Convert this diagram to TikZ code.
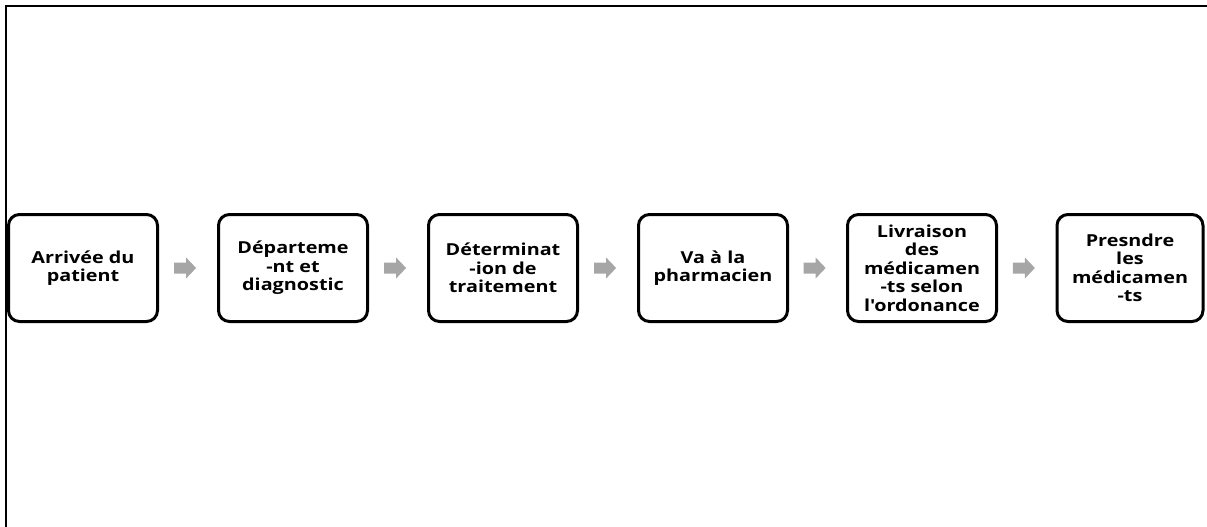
\documentclass[tikz,border=0pt]{standalone}
\usepackage{fontspec}
\newfontfamily\boxfont{Open Sans}[FakeStretch=1.2]
\usetikzlibrary{calc}
\tikzset{
  stepbox/.style={draw=black, line width=3pt, rounded corners=11pt, fill=white,
    minimum width=149pt, minimum height=107pt, inner sep=0pt, align=center,
    font=\boxfont\bfseries\fontsize{16.5}{18.5}\selectfont},
  flowfill/.style={fill=black!35, draw=none},
  frameline/.style={line width=2.8pt, black}
}
\begin{document}
\begin{tikzpicture}[x=1pt, y=-1pt]
\useasboundingbox (0,0) rectangle (1207,527);
\coordinate (fr) at (1207,6);
\coordinate (fc) at (6,6);
\coordinate (fb) at (6,527);
\draw[frameline] (fr) -- (fc) -- (fb);
\node[stepbox] (b1) at (83,268) {Arrivée du\\patient};
\node[stepbox] (b2) at (293,268) {Départeme\\-nt et\\diagnostic};
\node[stepbox] (b3) at (503,268) {Déterminat\\-ion de\\traitement};
\node[stepbox] (b4) at (713,268) {Va à la\\pharmacien};
\node[stepbox] (b5) at (922,268) {Livraison\\des\\médicamen\\-ts selon\\l'ordonance};
\node[stepbox, minimum width=146pt] (b6) at (1130,268) {Presndre\\les\\médicamen\\-ts};
\foreach \a/\b/\m in {b1/b2/m1, b2/b3/m2, b3/b4/m3, b4/b5/m4, b5/b6/m5}{
  \path (\a.east) -- (\b.west) coordinate[pos=0.45] (\m);
  \fill[flowfill] (\m) ++(-11,-5.5) -- ++(12,0) -- ++(0,-5) -- ++(10,10.5)
     -- ++(-10,10.5) -- ++(0,-5) -- ++(-12,0) -- cycle;
}
\end{tikzpicture}
\end{document}
